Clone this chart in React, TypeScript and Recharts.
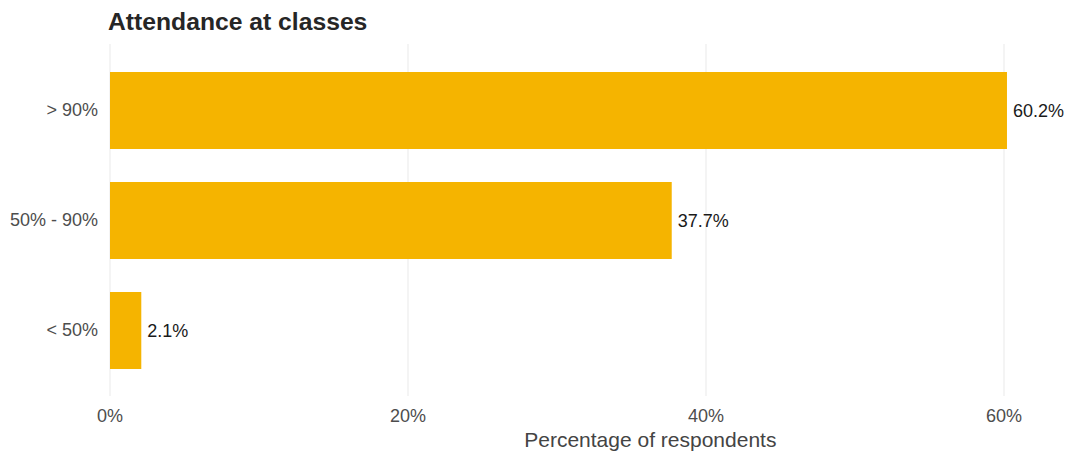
import React from 'react';
import { BarChart, Bar, XAxis, YAxis, CartesianGrid, LabelList, Label } from 'recharts';

const categories = ['> 90%', '50% - 90%', '< 50%'];
const percentages = [60.2, 37.7, 2.1];
const xTicks = [0, 20, 40, 60];
const titleText = 'Attendance at classes';
const xAxisTitle = 'Percentage of respondents';

const data = categories.map((c, i) => ({ category: c, value: percentages[i] }));

const FONT = '"Liberation Sans", Arial, sans-serif';

export default function App() {
  return (
    <div
      style={{
        position: 'absolute',
        left: 0,
        top: 0,
        width: 1066,
        height: 453,
        background: '#ffffff',
        fontFamily: FONT,
      }}
    >
      <div
        style={{
          position: 'absolute',
          left: 108,
          top: 7,
          fontSize: 24.7,
          fontWeight: 700,
          color: '#262626',
          lineHeight: '30px',
          whiteSpace: 'nowrap',
        }}
      >
        {titleText}
      </div>
      <BarChart
        width={1066}
        height={453}
        data={data}
        layout="vertical"
        margin={{ top: 44, right: 17.3, bottom: 0, left: 0 }}
        style={{ fontFamily: FONT }}
      >
        <CartesianGrid
          horizontal={false}
          vertical={true}
          stroke="#ebebeb"
          strokeWidth={1.1}
          syncWithTicks={true}
        />
        <XAxis
          type="number"
          domain={[0, 63]}
          ticks={xTicks}
          tickFormatter={(v: number) => `${v}%`}
          axisLine={false}
          tickLine={false}
          tickSize={0}
          tickMargin={13}
          height={57}
          interval={0}
          allowDataOverflow
          tick={{ fontSize: 18, fill: '#4d4d4d' }}
        >
          <Label
            value={xAxisTitle}
            position="insideBottom"
            offset={6}
            dx={71}
            style={{ fontSize: 21, fill: '#444444' }}
          />
        </XAxis>
        <YAxis
          type="category"
          dataKey="category"
          width={110}
          axisLine={false}
          tickLine={false}
          tickSize={0}
          tickMargin={12}
          padding={{ top: 11, bottom: 11 }}
          interval={0}
          tick={{ fontSize: 18, fill: '#4d4d4d' }}
        />
        <Bar dataKey="value" fill="#F5B400" barSize={77} isAnimationActive={false}>
          <LabelList
            dataKey="value"
            position="right"
            offset={6}
            formatter={(v: number) => `${Number(v).toFixed(1)}%`}
            style={{ fontSize: 18, fill: '#1a1a1a' }}
          />
        </Bar>
      </BarChart>
    </div>
  );
}
